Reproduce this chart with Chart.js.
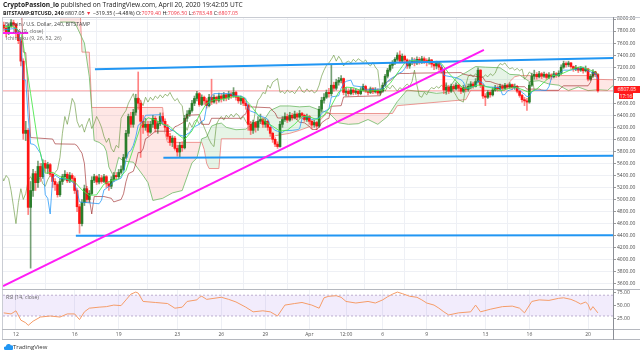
<!DOCTYPE html>
<html>
<head>
    <meta charset="utf-8" />
    <title>BTCUSD 240</title>
    <script src="https://cdn.jsdelivr.net/npm/chart.js"></script>
    <style>
        body { margin: 0; background: #fff; font-family: "Open Sans", sans-serif; }
        #wrap { position: relative; width: 640px; height: 353px; overflow: hidden; }
        #wrap canvas { position: absolute; left: 0; }
        .txt { position: absolute; white-space: nowrap; color: #222; }
        .dn { color: #f23645; }
        .ln { position: absolute; background: #c9ccd3; }
        .box { position: absolute; background: #ff1a1a; color: #fff; font-size: 5px; text-align: center; }
    </style>
</head>
<body>
    <div id="wrap">
        <canvas id="priceChart" width="640" height="292" style="top:0"></canvas>
        <canvas id="rsiChart" width="640" height="52" style="top:289px"></canvas>

        <div class="ln" style="left:2px;top:17px;width:638px;height:1px"></div>
        <div class="ln" style="left:2px;top:17px;width:1px;height:323px"></div>
        <div class="ln" style="left:2px;top:289px;width:638px;height:1px;background:#b5b8bf"></div>
        <div class="ln" style="left:2px;top:329px;width:638px;height:1px;background:#b5b8bf"></div>
        <div class="ln" style="left:2px;top:339px;width:638px;height:1px;background:#b5b8bf"></div>
        <div class="ln" style="left:613px;top:17px;width:1px;height:323px;background:#8c8f96"></div>

        <div class="txt" style="left:3px;top:0px;font-size:6.6px"><b>CryptoPassion_io</b> published on TradingView.com, April 20, 2020 19:42:05 UTC</div>
        <div class="txt" style="left:3px;top:8.5px;font-size:5.3px"><b>BITSTAMP:BTCUSD, 240</b> 6807.05 <span class="dn">▼</span> −319.35 (−4.48%) O:<span class="dn">7079.40</span> H:<span class="dn">7096.50</span> L:<span class="dn">6783.48</span> C:<span class="dn">6807.05</span></div>
        <div class="txt" style="left:5px;top:20px;font-size:5.2px;color:#444">Bitcoin / U.S. Dollar, 240, BITSTAMP</div>
        <div class="txt" style="left:13px;top:27px;font-size:5.2px;color:#666">MA (9, close)</div>
        <div class="txt" style="left:6px;top:34px;font-size:5.2px;color:#666">Ichimoku (9, 26, 52, 26)</div>
        <div class="txt" style="left:6px;top:293px;font-size:5.2px;color:#666">RSI (14, close)</div>

        <div class="box" style="left:614px;top:86px;width:26px;height:7px;line-height:7px">6807.05</div>
        <div class="box" style="left:619px;top:93px;width:14px;height:6px;line-height:6px">17:16</div>

        <div class="txt" style="left:4px;top:343px;font-size:6px;color:#333">
            <svg width="9" height="7" style="vertical-align:-1px"><path d="M1.5 7 a1.8 1.8 0 0 1 0.3-3.6 a2.8 2.8 0 0 1 5.2-1 a1.9 1.9 0 0 1 0.8 4.6z" fill="#2196f3"/></svg>TradingView
        </div>
    </div>

    <script>
        // 4h candles, index 0 = Mar 11 2020 00:00 UTC
        const firstIndex = 1;
        const firstOpen = 7900;

        const closes = [
            7850, 7760, 7880, 7940, 7910,                 // Mar 11
            7760, 7640, 7300, 6100, 6150, 4870,           // Mar 12
            5150, 5430, 5280, 5550, 5380, 5600,           // Mar 13
            5520, 5580, 5420, 5300, 5250, 5080,           // Mar 14
            5300, 5380, 5420, 5310, 5400, 5350,           // Mar 15
            5150, 4880, 4600, 4950, 5180, 5000,           // Mar 16
            5100, 5320, 5380, 5290, 5360, 5300,           // Mar 17
            5380, 5260, 5220, 5330, 5400, 5380,           // Mar 18
            5450, 5500, 5700, 6100, 6380, 6250,           // Mar 19
            6450, 6680, 6600, 6300, 6200, 6250,           // Mar 20
            6120, 6250, 6350, 6180, 6260, 6380,           // Mar 21
            6300, 6200, 6050, 5950, 6020, 5850,           // Mar 22
            5790, 5900, 5860, 6350, 6420, 6480,           // Mar 23
            6600, 6680, 6760, 6580, 6700, 6640,           // Mar 24
            6560, 6700, 6620, 6700, 6650, 6720,           // Mar 25
            6680, 6740, 6690, 6750, 6720, 6780,           // Mar 26
            6700, 6640, 6680, 6600, 6560, 6250,           // Mar 27
            6150, 6280, 6200, 6300, 6330, 6250,           // Mar 28
            6300, 6200, 6100, 6000, 5920, 5880,           // Mar 29
            6250, 6330, 6380, 6320, 6400, 6360,           // Mar 30
            6420, 6370, 6430, 6400, 6330, 6380,           // Mar 31
            6300, 6240, 6280, 6220, 6500, 6650,           // Apr 1
            6700, 6780, 6760, 6900, 6850, 6950,           // Apr 2
            6980, 7010, 6780, 6800, 6760, 6820,           // Apr 3
            6780, 6800, 6760, 6820, 6880, 6800,           // Apr 4
            6780, 6840, 6790, 6820, 6770, 6800,           // Apr 5
            6900, 7050, 7150, 7230, 7270, 7330,           // Apr 6
            7400, 7300, 7380, 7320, 7220, 7280,           // Apr 7
            7300, 7270, 7330, 7290, 7340, 7310,           // Apr 8
            7280, 7320, 7250, 7220, 7280, 7200,           // Apr 9
            7150, 6820, 6870, 6800, 6880, 6840,           // Apr 10
            6900, 6850, 6800, 6860, 6830, 6880,           // Apr 11
            6920, 6880, 6960, 7150, 6900, 6720,           // Apr 12
            6700, 6780, 6740, 6820, 6860, 6840,           // Apr 13
            6880, 6850, 6900, 6870, 6910, 6860,           // Apr 14
            6880, 6800, 6730, 6660, 6640, 6620,           // Apr 15
            6900, 7050, 7080, 7040, 7090, 7050,           // Apr 16
            7080, 7030, 7070, 7040, 7090, 7060,           // Apr 17
            7100, 7200, 7260, 7240, 7270, 7210,           // Apr 18
            7170, 7190, 7150, 7180, 7140, 7170,           // Apr 19
            7000, 7050, 7120, 7079.40, 6807.05            // Apr 20
        ];
        const highs = [
            7950, 7880, 7920, 7990, 7980,
            7930, 7800, 7680, 7340, 6300, 6180,
            5300, 5500, 5470, 5640, 5600, 5660,
            5650, 5620, 5600, 5450, 5350, 5280,
            5350, 5420, 5480, 5450, 5450, 5430,
            5380, 5180, 4920, 5000, 5240, 5220,
            5150, 5380, 5420, 5400, 5420, 5400,
            5420, 5400, 5300, 5380, 5450, 5450,
            5500, 5560, 5750, 6150, 6420, 6450,
            6500, 6750, 7120, 6650, 6400, 6350,
            6300, 6300, 6400, 6380, 6300, 6440,
            6440, 6340, 6250, 6100, 6060, 6050,
            5900, 5950, 5960, 6400, 6480, 6520,
            6650, 6720, 6800, 6780, 6740, 6720,
            6680, 6750, 7000, 6740, 6720, 6770,
            6760, 6780, 6760, 6800, 6790, 6860,
            6800, 6720, 6720, 6700, 6640, 6580,
            6300, 6320, 6300, 6380, 6420, 6360,
            6340, 6320, 6220, 6120, 6030, 5960,
            6300, 6380, 6440, 6420, 6450, 6430,
            6470, 6440, 6480, 6450, 6420, 6420,
            6400, 6320, 6320, 6300, 6550, 6700,
            6760, 6820, 6850, 7250, 6950, 7000,
            7030, 7060, 7020, 6860, 6840, 6860,
            6850, 6840, 6830, 6860, 6920, 6900,
            6840, 6870, 6860, 6860, 6840, 6830,
            6940, 7080, 7180, 7260, 7310, 7360,
            7440, 7470, 7420, 7400, 7340, 7320,
            7360, 7350, 7370, 7360, 7380, 7370,
            7340, 7360, 7330, 7290, 7300, 7290,
            7230, 7160, 6940, 6900, 6920, 6910,
            6940, 6920, 6880, 6900, 6890, 6920,
            6960, 6950, 7010, 7190, 7160, 6920,
            6760, 6810, 6800, 6860, 6900, 6890,
            6920, 6910, 6930, 6920, 6940, 6920,
            6920, 6900, 6820, 6750, 6700, 6680,
            6950, 7100, 7150, 7110, 7130, 7110,
            7120, 7100, 7110, 7090, 7130, 7110,
            7140, 7240, 7300, 7290, 7300, 7280,
            7220, 7230, 7200, 7210, 7200, 7220,
            7180, 7080, 7160, 7130, 7096.50
        ];
        const lows = [
            7800, 7700, 7740, 7860, 7860,
            7700, 7590, 7220, 6000, 5980, 4750,
            3860, 5050, 5150, 5200, 5300, 5350,
            5450, 5430, 5380, 5200, 5150, 5040,
            5050, 5250, 5320, 5280, 5280, 5300,
            5100, 4800, 4440, 4560, 4900, 4950,
            4950, 5080, 5280, 5250, 5260, 5270,
            5280, 5200, 5150, 5180, 5300, 5330,
            5350, 5420, 5480, 5680, 6050, 6200,
            6200, 6400, 6500, 5700, 6100, 6150,
            6060, 6100, 6200, 6120, 6100, 6230,
            6250, 6150, 6000, 5900, 5880, 5820,
            5720, 5700, 5800, 5840, 6300, 6380,
            6450, 6560, 6640, 6550, 6560, 6580,
            6520, 6540, 6580, 6600, 6590, 6620,
            6620, 6640, 6640, 6660, 6680, 6700,
            6650, 6600, 6580, 6560, 6500, 6150,
            6080, 6100, 6120, 6150, 6260, 6200,
            6200, 6150, 6050, 5950, 5880, 5850,
            5870, 6200, 6300, 6280, 6300, 6320,
            6340, 6330, 6350, 6340, 6300, 6300,
            6250, 6180, 6200, 6160, 6200, 6450,
            6600, 6680, 6700, 6720, 6800, 6820,
            6900, 6940, 6740, 6720, 6720, 6740,
            6740, 6750, 6730, 6740, 6800, 6780,
            6740, 6760, 6760, 6770, 6740, 6740,
            6780, 6880, 7020, 7120, 7180, 7240,
            7300, 7280, 7280, 7280, 7180, 7180,
            7240, 7220, 7240, 7250, 7260, 7260,
            7220, 7250, 7200, 7160, 7170, 7150,
            7100, 6760, 6750, 6760, 6780, 6800,
            6820, 6800, 6760, 6780, 6790, 6800,
            6840, 6850, 6870, 6940, 6860, 6680,
            6560, 6680, 6700, 6720, 6800, 6800,
            6820, 6820, 6840, 6840, 6850, 6830,
            6830, 6770, 6700, 6620, 6560, 6480,
            6600, 6880, 7000, 7000, 7020, 7010,
            7030, 7000, 7010, 7000, 7020, 7030,
            7040, 7080, 7180, 7200, 7210, 7180,
            7130, 7140, 7110, 7130, 7100, 7120,
            6970, 6980, 7030, 7040, 6783.48
        ];

        // indicator lines, [candle index, value]
        const sma9 = [[1, 7870], [4, 7880], [6, 7850], [8, 7770], [9, 7571], [12, 6758], [15, 5941], [18, 5437], [21, 5451],
            [24, 5381], [27, 5338], [30, 5293], [33, 5160], [36, 5068], [39, 5078], [42, 5257], [45, 5316], [48, 5342],
            [51, 5482], [54, 5846], [57, 6218], [60, 6359], [63, 6326], [66, 6254], [69, 6213], [72, 6089], [75, 5997],
            [78, 6141], [81, 6403], [84, 6602], [87, 6660], [90, 6663], [93, 6694], [96, 6714], [99, 6700], [102, 6564],
            [105, 6407], [108, 6291], [111, 6218], [114, 6137], [117, 6153], [120, 6251], [123, 6379], [126, 6377],
            [129, 6328], [132, 6400], [135, 6559], [138, 6786], [141, 6868], [144, 6859], [147, 6814], [150, 6800],
            [153, 6810], [156, 6820], [159, 6928], [162, 7100], [165, 7270], [168, 7311], [171, 7299], [174, 7291],
            [177, 7290], [180, 7261], [183, 7101], [186, 6971], [189, 6847], [192, 6862], [195, 6903], [198, 6882],
            [201, 6850], [204, 6804], [207, 6838], [210, 6872], [213, 6829], [216, 6778], [219, 6836], [222, 6950],
            [225, 7059], [228, 7068], [231, 7121], [234, 7178], [237, 7208], [240, 7164], [243, 7120], [244, 7077]];
        const tenkan = [[1, 7820], [6, 7845], [7, 7790], [8, 7605], [9, 6995], [10, 6985], [11, 6370], [12, 5925],
            [13, 5920], [14, 5895], [15, 5830], [16, 5770], [17, 5600], [18, 5080], [19, 5020], [20, 4760], [21, 5355],
            [22, 5405], [24, 5350], [26, 5345], [28, 5320], [30, 5260], [31, 5140], [32, 4960], [36, 4945], [40, 4930],
            [41, 4990], [42, 5160], [43, 5185], [45, 5250], [46, 5300], [49, 5355], [50, 5450], [51, 5650], [52, 5785],
            [53, 5815], [54, 5900], [55, 6040], [56, 6235], [58, 6300], [59, 6400], [65, 6410], [66, 6250], [68, 6220],
            [69, 6170], [71, 6130], [73, 6070], [75, 6050], [76, 6090], [77, 6110], [78, 6175], [79, 6210], [81, 6250],
            [82, 6300], [83, 6320], [84, 6550], [85, 6590], [86, 6725], [87, 6760], [94, 6760], [95, 6725], [98, 6720],
            [100, 6680], [101, 6505], [102, 6470], [104, 6440], [105, 6400], [108, 6360], [109, 6330], [110, 6235],
            [111, 6185], [112, 6150], [113, 6135], [115, 6115], [116, 6145], [119, 6150], [121, 6160], [122, 6175],
            [123, 6340], [124, 6380], [126, 6365], [127, 6330], [130, 6355], [131, 6430], [132, 6460], [134, 6505],
            [135, 6705], [138, 6725], [139, 6850], [140, 6925], [141, 6965], [143, 6985], [144, 6890], [148, 6870],
            [149, 6820], [156, 6840], [157, 6910], [158, 6960], [159, 7000], [160, 7025], [161, 7050], [162, 7090],
            [163, 7105], [164, 7125], [165, 7175], [166, 7245], [167, 7295], [168, 7325], [172, 7300], [175, 7280],
            [176, 7290], [178, 7270], [180, 7240], [181, 7065], [182, 7055], [184, 7040], [186, 7025], [188, 6990],
            [189, 6955], [190, 6845], [191, 6850], [194, 6885], [195, 6975], [197, 6935], [198, 6875], [204, 6860],
            [205, 6740], [206, 6745], [207, 6805], [208, 6820], [209, 6830], [210, 6870], [211, 6855], [212, 6820],
            [213, 6780], [214, 6750], [215, 6710], [216, 6715], [217, 6790], [218, 6815], [223, 6815], [224, 6875],
            [225, 7015], [226, 7075], [227, 7065], [228, 7070], [229, 7120], [230, 7150], [233, 7150], [234, 7160],
            [235, 7165], [236, 7170], [237, 7190], [238, 7200], [240, 7135], [241, 7125], [242, 7100], [243, 7100],
            [244, 6997]];
        const kijun = [[1, 8400], [8, 8400], [9, 7450], [10, 7440], [11, 6775], [12, 6030], [21, 6005], [22, 5925],
            [30, 5920], [31, 5895], [32, 5830], [33, 5770], [34, 5600], [35, 5080], [36, 5020], [37, 4760], [38, 5050],
            [42, 5050], [44, 5030], [45, 5020], [46, 4960], [49, 5000], [50, 5095], [51, 5295], [52, 5430], [54, 5470],
            [55, 5595], [56, 5780], [57, 5780], [58, 5840], [59, 6010], [60, 6035], [62, 6100], [63, 6135], [69, 6135],
            [70, 6150], [71, 6210], [72, 6225], [74, 6270], [75, 6300], [76, 6400], [81, 6410], [82, 6250], [85, 6250],
            [86, 6350], [98, 6350], [99, 6400], [100, 6420], [101, 6575], [102, 6540], [110, 6525], [111, 6475],
            [112, 6440], [113, 6355], [120, 6355], [121, 6325], [122, 6285], [124, 6275], [125, 6245], [126, 6215],
            [127, 6165], [129, 6165], [130, 6200], [131, 6275], [132, 6305], [133, 6335], [134, 6350], [135, 6550],
            [139, 6560], [140, 6705], [155, 6725], [156, 6850], [157, 6925], [158, 6965], [159, 6975], [160, 7015],
            [161, 7040], [162, 7080], [163, 7095], [167, 7095], [168, 7100], [188, 7110], [189, 7085], [190, 7075],
            [191, 7065], [197, 7030], [198, 6965], [200, 6960], [201, 6945], [202, 6930], [205, 6895], [206, 6875],
            [214, 6875], [215, 6835], [220, 6835], [221, 6820], [222, 6815], [228, 6815], [229, 6860], [230, 6890],
            [240, 6890], [241, 6950], [242, 7090], [243, 7135], [244, 7040]];
        const spanA = [[24, 7950], [30, 7950], [34, 7600], [36, 7040], [37, 6500], [38, 5980], [40, 5950], [42, 5890],
            [43, 5800], [44, 5540], [46, 5380], [48, 5700], [50, 5640], [54, 5620], [58, 5400], [60, 5280], [62, 4985],
            [66, 5020], [70, 5110], [74, 5150], [78, 5610], [80, 5690], [82, 6010], [84, 6040], [86, 6220], [88, 6255],
            [90, 6270], [92, 6200], [96, 6160], [100, 6170], [104, 6290], [108, 6355], [110, 6480], [114, 6555],
            [118, 6555], [122, 6540], [126, 6550], [130, 6490], [134, 6440], [138, 6275], [142, 6250], [146, 6260],
            [150, 6330], [154, 6250], [158, 6380], [162, 6630], [166, 6820], [170, 6800], [174, 6790], [178, 6765],
            [182, 6780], [186, 7020], [190, 7110], [194, 7210], [198, 7200], [204, 7190], [208, 7080], [212, 7070],
            [216, 6960], [220, 6975], [224, 6920], [228, 6900], [232, 6810], [236, 6870], [240, 6810], [244, 6825],
            [248, 6815], [251, 6920]];
        const spanB = [[20, 8400], [32, 8400], [33, 7450], [36, 7450], [37, 6530], [66, 6530], [67, 6100], [68, 5950],
            [82, 5950], [83, 5830], [84, 5600], [85, 5515], [89, 5515], [90, 6010], [110, 6010], [112, 6060],
            [118, 6100], [122, 6150], [126, 6210], [130, 6300], [133, 6430], [160, 6430], [162, 6560], [190, 6660],
            [192, 6815], [206, 6815], [208, 6960], [210, 7040], [212, 7060], [240, 7060], [241, 7000], [251, 6990]];
        const rsi14 = [[1, 36], [4, 34], [6, 40], [8, 22], [10, 17], [11, 12], [13, 20], [16, 28], [20, 30], [24, 28],
            [27, 34], [30, 34], [32, 23], [34, 38], [36, 45], [40, 47], [43, 48], [46, 51], [49, 50], [51, 61], [53, 72],
            [55, 76], [56, 74], [58, 58], [63, 56], [68, 54], [71, 45], [74, 47], [76, 58], [80, 61], [81, 66], [82, 68],
            [84, 62], [87, 64], [90, 66], [93, 62], [96, 57], [100, 47], [103, 38], [107, 40], [110, 38], [113, 30],
            [116, 51], [120, 54], [123, 56], [127, 51], [130, 45], [132, 65], [134, 68], [137, 69], [139, 66], [141, 58],
            [145, 55], [150, 58], [153, 55], [156, 61], [158, 67], [160, 72], [162, 76], [164, 73], [167, 68], [170, 66],
            [172, 61], [174, 55], [177, 51], [179, 45], [181, 38], [183, 32], [187, 36], [192, 38], [194, 51], [196, 38],
            [200, 43], [205, 48], [209, 49], [212, 45], [214, 36], [217, 58], [220, 61], [224, 60], [228, 64], [230, 65],
            [233, 62], [235, 58], [237, 53], [239, 57], [240, 52], [241, 41], [242, 48], [244, 36]];

        // drawings on the chart, [candle index, price]
        const upperLine = [[38.3, 7164], [250.2, 7354]];
        const midLine = [[66.3, 5693], [250.2, 5727]];
        const lowLine = [[30.5, 4396], [250.2, 4407]];
        const riseLine = [[0.7, 3563], [197.4, 7487]];
        const legendStroke = [[0.7, 7768], [11, 7768]];

        const dateTicks = [6, 30, 48, 72, 90, 108, 126, 141, 156, 174, 198, 216, 240];
        const dateLabels = ['12', '16', '19', '23', '26', '29', 'Apr', '12:00', '6', '9', '13', '16', '20'];
        const rsiTicks = [25, 50, 75];

        Chart.defaults.font.family = '"Open Sans", sans-serif';
        Chart.defaults.animation = false;

        const X_MIN = 0.7, X_MAX = 250.2;
        const gridColor = '#eef0f5';
        const lastClose = closes[closes.length - 1];

        const opens = closes.map((c, k) => k === 0 ? firstOpen : closes[k - 1]);
        const idx = closes.map((c, k) => firstIndex + k);
        const isUp = closes.map((c, k) => c >= opens[k]);
        const bodies = closes.map((c, k) => ({ x: idx[k], y: [opens[k], c] }));
        const wicks = closes.map((c, k) => ({ x: idx[k], y: [lows[k], highs[k]] }));
        const lagging = closes.map((c, k) => ({ x: idx[k] - 26, y: c })).filter(p => p.x >= 0);

        const pts = a => a.map(p => ({ x: p[0], y: p[1] }));
        function line(label, data, color, width, order, extra) {
            return Object.assign({
                type: 'line', label: label, data: data, borderColor: color, borderWidth: width,
                pointRadius: 0, fill: false, tension: 0, order: order
            }, extra || {});
        }
        function dateAxis(showLabels) {
            return {
                type: 'linear', min: X_MIN, max: X_MAX, offset: false,
                afterBuildTicks: s => { s.ticks = dateTicks.map(v => ({ value: v })); },
                afterFit: s => { s.height = showLabels ? 12 : 0; s.paddingLeft = 0; s.paddingRight = 0; },
                grid: { color: gridColor, drawTicks: false },
                border: { display: false },
                ticks: {
                    display: showLabels, autoSkip: false, maxRotation: 0, padding: 3,
                    font: { size: 5 }, color: '#555',
                    callback: (v, i) => dateLabels[i]
                }
            };
        }

        new Chart(document.getElementById('priceChart'), {
            type: 'bar',
            data: {
                datasets: [
                    line('Lead 2', pts(spanB), 'rgba(240,120,120,0.75)', 1, 30),
                    line('Lead 1', pts(spanA), 'rgba(110,185,100,0.8)', 1, 29,
                        { fill: { target: '-1', above: 'rgba(76,175,80,0.14)', below: 'rgba(244,67,54,0.13)' } }),
                    line('Last', pts([[X_MIN, lastClose], [X_MAX, lastClose]]), 'rgba(255,60,60,0.45)', 1, 28),
                    line('Lagging', lagging, 'rgba(95,145,50,0.6)', 1, 27),
                    {
                        label: 'Wicks', data: wicks, barThickness: 1, grouped: false, order: 26,
                        backgroundColor: isUp.map(u => u ? 'rgba(60,120,60,0.7)' : 'rgba(255,90,90,0.75)')
                    },
                    {
                        label: 'Bodies', data: bodies, barThickness: 2, minBarLength: 1, grouped: false, order: 25,
                        backgroundColor: isUp.map(u => u ? '#2a7d2a' : '#ff1414')
                    },
                    line('Base', pts(kijun), 'rgba(153,30,30,0.6)', 1, 24),
                    line('Conversion', pts(tenkan), 'rgba(30,150,250,0.75)', 1, 23),
                    line('MA', pts(sma9), 'rgba(70,230,70,0.85)', 1, 22),
                    line('Upper', pts(upperLine), '#2196f3', 2, 3),
                    line('Mid', pts(midLine), '#2196f3', 2, 3),
                    line('Low', pts(lowLine), '#2196f3', 2, 3),
                    line('Rise', pts(riseLine), '#ff1df5', 2, 2),
                    line('Mark', pts(legendStroke), '#ff1df5', 2, 2)
                ]
            },
            options: {
                responsive: false,
                layout: { padding: { left: 3, top: 18, right: 0, bottom: 3 } },
                plugins: { legend: { display: false }, tooltip: { enabled: false } },
                scales: {
                    x: dateAxis(false),
                    y: {
                        position: 'right', min: 3513, max: 8017,
                        afterFit: s => { s.width = 27; s.paddingTop = 0; s.paddingBottom = 0; },
                        grid: { color: gridColor, tickLength: 3, tickColor: '#999' },
                        border: { display: false },
                        ticks: {
                            stepSize: 200, includeBounds: false, padding: 1,
                            font: { size: 5 }, color: '#4a4a4a',
                            callback: v => v.toFixed(2)
                        }
                    }
                }
            }
        });

        const rsiBand = {
            id: 'rsiBand',
            beforeDatasetsDraw(chart) {
                const { ctx, chartArea: a, scales: { y } } = chart;
                const top = y.getPixelForValue(70), bot = y.getPixelForValue(30);
                ctx.save();
                ctx.fillStyle = 'rgba(156,110,230,0.13)';
                ctx.fillRect(a.left, top, a.right - a.left, bot - top);
                ctx.strokeStyle = 'rgba(150,130,180,0.6)';
                ctx.setLineDash([2, 2]);
                ctx.lineWidth = 1;
                [top, bot].forEach(py => {
                    ctx.beginPath(); ctx.moveTo(a.left, py); ctx.lineTo(a.right, py); ctx.stroke();
                });
                ctx.restore();
            }
        };

        new Chart(document.getElementById('rsiChart'), {
            type: 'line',
            data: { datasets: [line('RSI', pts(rsi14), '#f59c68', 1, 1)] },
            options: {
                responsive: false,
                layout: { padding: { left: 3, top: 1, right: 0, bottom: 0 } },
                plugins: { legend: { display: false }, tooltip: { enabled: false } },
                scales: {
                    x: dateAxis(true),
                    y: {
                        position: 'right', min: 5, max: 80,
                        afterBuildTicks: s => { s.ticks = rsiTicks.map(v => ({ value: v })); },
                        afterFit: s => { s.width = 27; s.paddingTop = 0; s.paddingBottom = 0; },
                        grid: { display: true, drawOnChartArea: false, tickLength: 3, tickColor: '#999' },
                        border: { display: false },
                        ticks: { padding: 1, font: { size: 5 }, color: '#4a4a4a', callback: v => v.toFixed(2) }
                    }
                }
            },
            plugins: [rsiBand]
        });
    </script>
</body>
</html>
